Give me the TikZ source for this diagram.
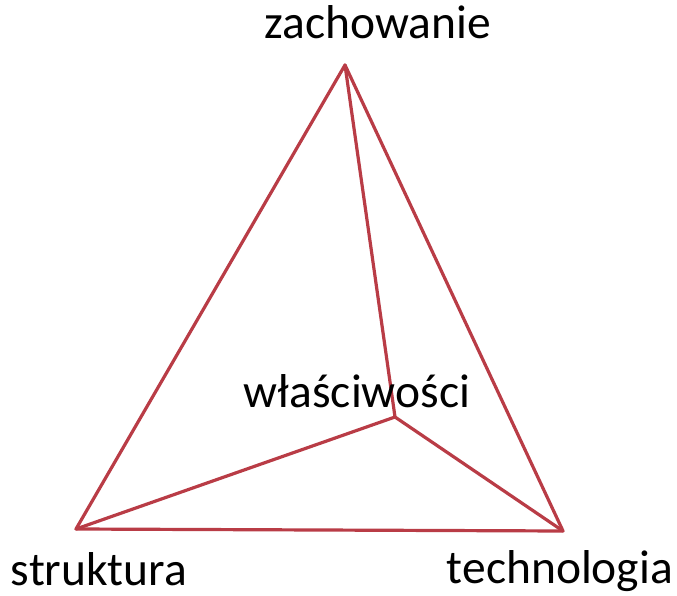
\documentclass[tikz,border=0pt]{standalone}
\usepackage{fontspec}
\setmainfont{Carlito}
\definecolor{edgered}{RGB}{185,60,70}
\begin{document}
\begin{tikzpicture}[x=1pt,y=-1pt,
  edge/.style={draw=edgered,line width=3.2pt,line join=round,line cap=round},
  lbl/.style={font=\fontsize{47.5}{52}\selectfont,inner sep=0pt,anchor=base}]
\useasboundingbox (0,0) rectangle (677,596);
\coordinate (T) at (345,65);
\coordinate (L) at (76,529);
\coordinate (R) at (563,531);
\coordinate (I) at (395,417);
\draw[edge] (T) -- (L) -- (R) -- cycle;
\draw[edge] (T) -- (I) -- (L);
\draw[edge] (I) -- (R);
\node[lbl] (zach) at (378,39) {zachowanie};
\node[lbl] (wl) at (357,407) {właściwości};
\node[lbl] (str) at (99,585) {struktura};
\node[lbl] (tech) at (560,583) {technologia};
\end{tikzpicture}
\end{document}
